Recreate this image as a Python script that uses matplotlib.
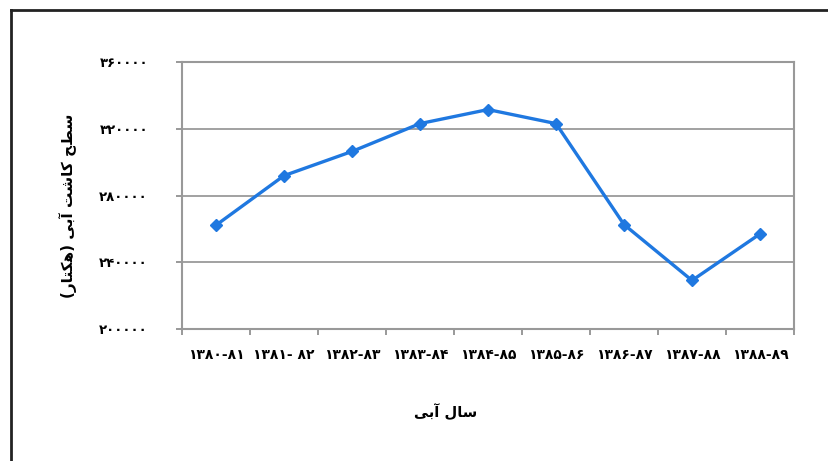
import matplotlib
matplotlib.use("Agg")
import matplotlib.pyplot as plt
from matplotlib.lines import Line2D

# water years (Persian digits) and irrigated area in hectares
years = ["۱۳۸۰-۸۱", "۱۳۸۱- ۸۲", "۱۳۸۲-۸۳", "۱۳۸۳-۸۴", "۱۳۸۴-۸۵",
         "۱۳۸۵-۸۶", "۱۳۸۶-۸۷", "۱۳۸۷-۸۸", "۱۳۸۸-۸۹"]
area = [262200, 291900, 306400, 323100, 331500, 323100, 262600, 229100, 257000]

y_ticks = [200000, 240000, 280000, 320000, 360000]
y_labels = ["۲۰۰۰۰۰", "۲۴۰۰۰۰", "۲۸۰۰۰۰", "۳۲۰۰۰۰", "۳۶۰۰۰۰"]

# Persian text written in visual order with Arabic presentation forms
x_title = "\uFBFD\uFE91\uFE81 \uFEDD\uFE8E\uFEB3"  # سال آبی
y_title = ("(\uFEAD\uFE8E\uFE98\uFB91\uFEEB) \uFBFD\uFE91\uFE81 "
           "\uFE96\uFEB7\uFE8E\uFB90 \uFEA2\uFEC2\uFEB3")  # سطح کاشت آبی (هکتار)

plt.rcParams['font.family'] = ['DejaVu Sans']

fig = plt.figure(figsize=(8.29, 4.61), dpi=100)
ax = fig.add_axes([0.2195, 0.2863, 0.9578 - 0.2195, 0.8655 - 0.2863])

x_pos = list(range(len(years)))
ax.plot(x_pos, area, color='#1f78e0', linewidth=2.4, marker='D',
        markersize=6.5, zorder=3)

ax.set_xlim(-0.5, len(years) - 0.5)
ax.set_ylim(200000, 360000)

ax.set_yticks(y_ticks)
ax.set_yticklabels(y_labels, fontsize=9.5, fontweight='bold')
ax.tick_params(axis='y', length=4.5, width=1.2, color='#888888', pad=20)
ax.grid(axis='y', color='#888888', linewidth=1.1)

# ticks between categories, labels centred on categories
ax.set_xticks([i - 0.5 for i in range(len(years) + 1)])
ax.set_xticklabels([])
ax.set_xticks(x_pos, minor=True)
ax.set_xticklabels(years, minor=True, fontsize=10, fontweight='bold')
ax.tick_params(axis='x', which='major', length=4.5, width=1.2, color='#888888')
ax.tick_params(axis='x', which='minor', length=0, pad=14)

for s in ax.spines.values():
    s.set_color('#999999')
    s.set_linewidth(1.5)

ax.set_xlabel(x_title, fontsize=10.5, fontweight='bold')
ax.xaxis.set_label_coords(0.43, -0.277)
ax.set_ylabel(y_title, fontsize=11, fontweight='bold')
ax.yaxis.set_label_coords(-0.172, 0.46)

# outer frame of the picture
fig.add_artist(Line2D([0.0133, 0.0133], [0, 0.978], color='#222222', linewidth=2))
fig.add_artist(Line2D([0.0133, 1.0], [0.978, 0.978], color='#222222', linewidth=2))

fig.savefig("out.png", dpi=100)
